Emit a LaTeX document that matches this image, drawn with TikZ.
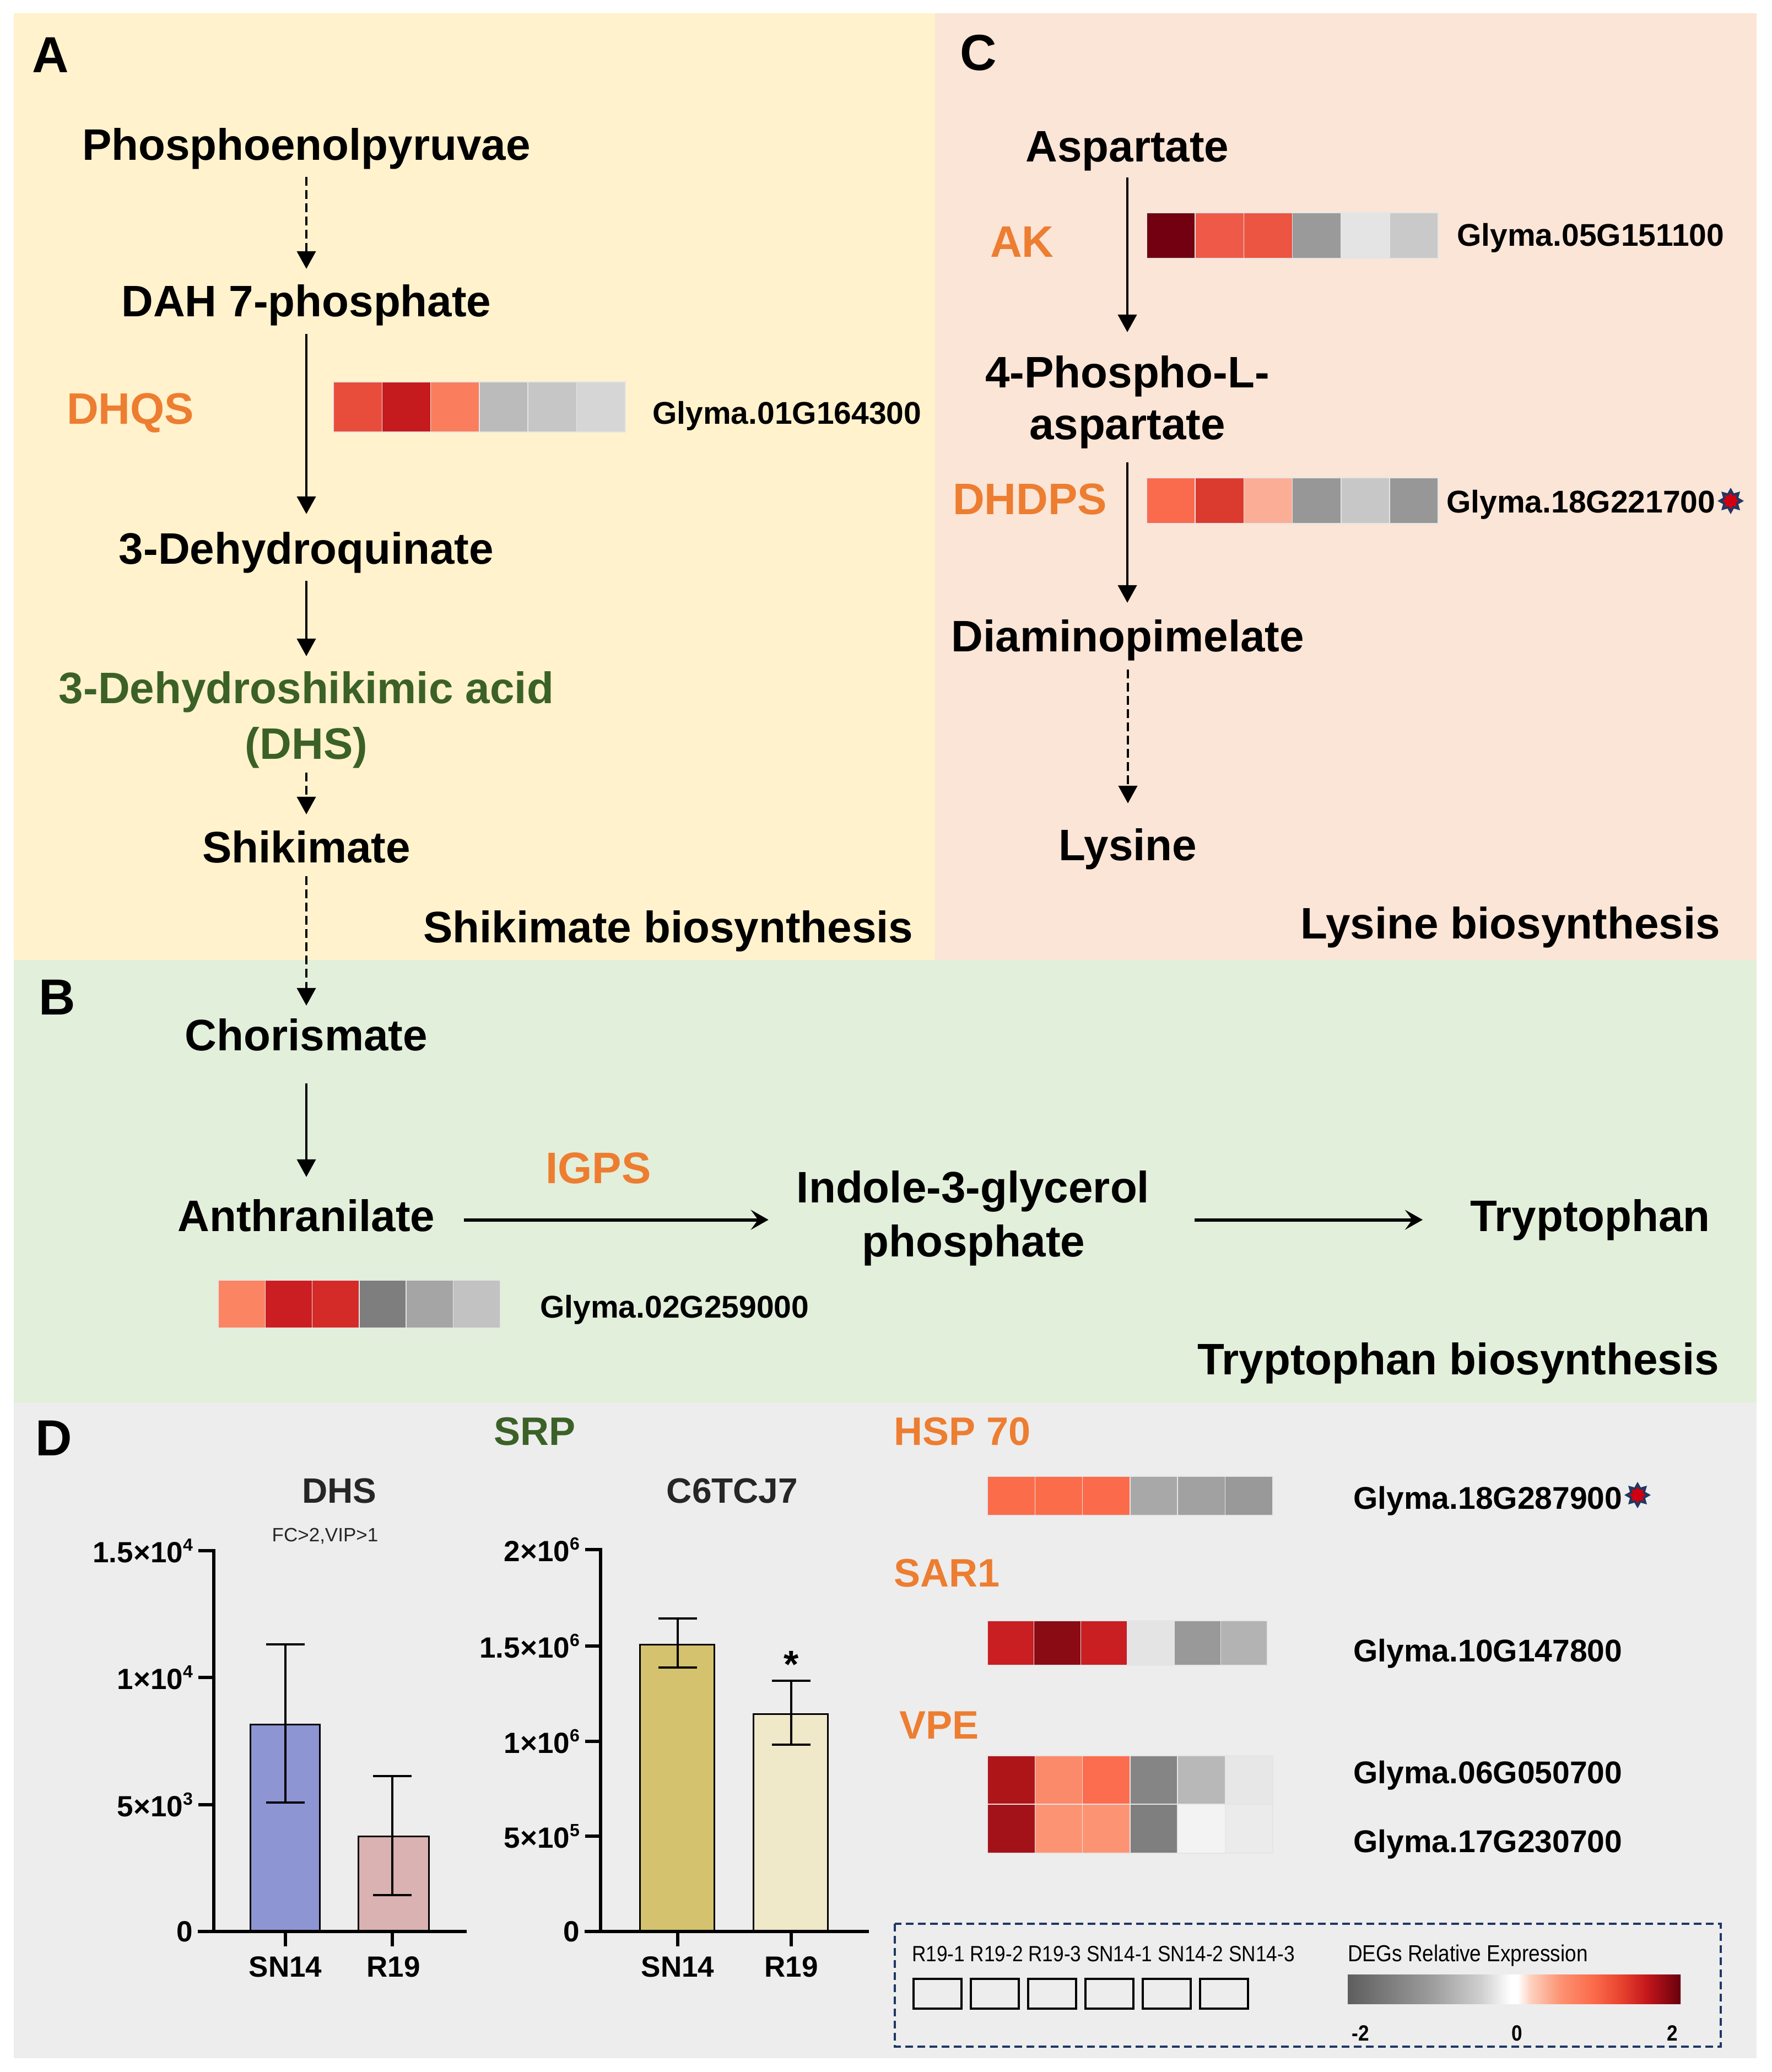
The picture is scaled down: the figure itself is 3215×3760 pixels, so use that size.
\documentclass[tikz,border=0pt]{standalone}
\usepackage{fontspec}
\setmainfont{Liberation Sans}
\newfontfamily\narrowf[FakeStretch=0.88]{Liberation Sans}
\usetikzlibrary{arrows.meta,shapes.geometric}
\definecolor{bgA}{HTML}{FFF2CC}
\definecolor{bgC}{HTML}{FBE5D6}
\definecolor{bgB}{HTML}{E2EFDA}
\definecolor{bgD}{HTML}{EDEDED}
\definecolor{enzc}{HTML}{ED7D31}
\definecolor{grn}{HTML}{3B6127}
\definecolor{navyc}{HTML}{1F3864}
\definecolor{starred}{HTML}{D00010}
\definecolor{ttl}{HTML}{262626}
\definecolor{barA}{HTML}{8E95D3}
\definecolor{barB}{HTML}{DAB2B2}
\definecolor{barC}{HTML}{D4C26E}
\definecolor{barD}{HTML}{EFE8C9}
\definecolor{cg0}{HTML}{5E5E5E}
\definecolor{cg1}{HTML}{9C9C9C}
\definecolor{cg2}{HTML}{CFCFCF}
\definecolor{cr0}{HTML}{FDD0BE}
\definecolor{cr1}{HTML}{FC9272}
\definecolor{cr2}{HTML}{FB6A4A}
\definecolor{cr3}{HTML}{E8432F}
\definecolor{cr4}{HTML}{C3161B}
\definecolor{cr5}{HTML}{67000D}
\pgfdeclarehorizontalshading{degs}{100bp}{color(0bp)=(cg0); color(25bp)=(cg0); color(37.5bp)=(cg1); color(45bp)=(cg2); color(49.5bp)=(white); color(50.5bp)=(white); color(52.5bp)=(cr0); color(57bp)=(cr1); color(62bp)=(cr2); color(66bp)=(cr3); color(70bp)=(cr4); color(75bp)=(cr5); color(100bp)=(cr5)}
\newcommand\metf{\bfseries\fontsize{80}{98}\selectfont}
\newcommand\genef{\bfseries\fontsize{57}{68}\selectfont}
\newcommand\subhf{\bfseries\fontsize{72}{86}\selectfont}
\newcommand\letf{\bfseries\fontsize{92}{110}\selectfont}
\newcommand\tickf{\bfseries\fontsize{53}{62}\selectfont}
\newcommand\supf{\bfseries\fontsize{32}{38}\selectfont}
\newcommand\sci[2]{#1×10\raisebox{21pt}{\supf #2}}
\newcommand\hmap[5]{%
  \foreach \c [count=\i from 0] in {#5} {
    \definecolor{hmtmp}{HTML}{\c}
    \fill[hmtmp, draw=black!10, line width=1.5pt] ({#1+\i*#3},#2) rectangle ++(#3,#4);
  }}
\begin{document}
\begin{tikzpicture}[x=1pt,y=-1pt,
  met/.style={font=\metf, inner sep=0pt, text height=58pt, text depth=17pt, anchor=base},
  enz/.style={font=\metf, text=enzc, inner sep=0pt, anchor=base west},
  subh/.style={font=\subhf, text=enzc, inner sep=0pt, anchor=base west},
  gene/.style={font=\genef, inner sep=0pt, anchor=base west},
  plet/.style={font=\letf, inner sep=0pt, anchor=base west},
  ptitle/.style={font=\metf, inner sep=0pt, anchor=base west},
  arr/.style={line width=4.5pt, -{Triangle[length=32pt,width=34pt]}},
  darr/.style={arr, dash pattern=on 16pt off 8pt},
  harr/.style={line width=6pt, -{Stealth[length=32pt,width=36pt,inset=13pt]}},
  tickl/.style={font=\tickf, inner sep=0pt, anchor=east},
  xl/.style={font=\tickf, inner sep=0pt, anchor=base},
  axis/.style={line width=6pt},
  errb/.style={line width=4pt},
  barst/.style={line width=3pt, draw=black},
  starout/.style={star, star points=8, star point ratio=1.6, fill=navyc, minimum size=48pt, inner sep=0pt},
  starin/.style={star, star points=8, star point ratio=1.5, fill=starred, minimum size=30pt, inner sep=0pt},
  legl/.style={font=\narrowf\fontsize{40}{48}\selectfont, inner sep=0pt, anchor=base},
  legb/.style={draw=black, line width=4pt}
]
\useasboundingbox (0,0) rectangle (3215,3760);
\fill[white] (0,0) rectangle (3215,3760);
% panels
\fill[bgA] (25,24) rectangle (1697,1742);
\fill[bgC] (1697,24) rectangle (3188,1742);
\fill[bgB] (25,1742) rectangle (3188,2545);
\fill[bgD] (25,2545) rectangle (3188,3735);
% panel letters
\node[plet] (LA) at (58,132) {A};
\node[plet] (LC) at (1742,128) {C};
\node[plet] (LB) at (70,1841) {B};
\node[plet] (LD) at (64,2641) {D};

% ---------- Panel A ----------
\node[met] (pep) at (556,290) {Phosphoenolpyruvae};
\node[met] (dah) at (556,574) {DAH 7-phosphate};
\node[met] (dhq) at (556,1023) {3-Dehydroquinate};
\node[met, text=grn] (dhs1) at (556,1276) {3-Dehydroshikimic acid};
\node[met, text=grn] (dhs2) at (556,1377) {(DHS)};
\node[met] (shik) at (556,1565) {Shikimate};
\node[enz] (dhqs) at (121,769) {DHQS};
\hmap{605}{693}{88.3}{91}{E84D3C,C51B1E,FA7E5E,BBBBBB,C6C6C6,D6D6D6}
\node[gene] (g1) at (1184,769) {Glyma.01G164300};
\node[ptitle] (tA) at (768,1710) {Shikimate biosynthesis};
\draw[darr, shorten <=14pt, shorten >=28pt] (pep.south) -- (pep.south |- dah.north);
\draw[arr, shorten <=15pt, shorten >=32pt] (dah.south) -- (dah.south |- dhq.north);
\draw[arr, shorten <=14pt, shorten >=27pt] (dhq.south) -- (dhq.south |- dhs1.north);
\draw[darr, shorten <=8pt, shorten >=29pt] (dhs2.south) -- (dhs2.south |- shik.north);

% ---------- Panel C ----------
\node[met] (asp) at (2046,293) {Aspartate};
\node[met] (pho1) at (2046,703) {4-Phospho-L-};
\node[met] (pho2) at (2046,797) {aspartate};
\node[met] (diam) at (2047,1182) {Diaminopimelate};
\node[met] (lys) at (2047,1561) {Lysine};
\node[enz] (ak) at (1797,466) {AK};
\node[enz] (dhdps) at (1729,933) {DHDPS};
\hmap{2081}{386}{88.2}{83}{720010,EE5A47,EC5541,9A9A9A,E4E4E4,C9C9C9}
\hmap{2081}{867}{88.2}{83}{FA6A4D,DB3A2F,FBAD96,979797,C7C7C7,979797}
\node[gene] (g2) at (2644,446) {Glyma.05G151100};
\node[gene] (g3) at (2625,930) {Glyma.18G221700};
\node[starout] (st1) at (3141,909) {};
\node[starin] (st1i) at (st1.center) {};
\node[ptitle] (tC) at (2360,1703) {Lysine biosynthesis};
\draw[arr, shorten <=12pt, shorten >=42pt] (asp.south) -- (asp.south |- pho1.north);
\draw[arr, shorten <=25pt, shorten >=30pt] (pho2.south) -- (pho2.south |- diam.north);
\draw[darr, shorten <=16pt, shorten >=45pt] (diam.south) -- (diam.south |- lys.north);

% ---------- Panel B ----------
\node[met] (chor) at (556,1906) {Chorismate};
\node[met] (anth) at (556,2234) {Anthranilate};
\node[met] (ind1) at (1766,2182) {Indole-3-glycerol};
\node[met] (ind2) at (1767,2280) {phosphate};
\node[met] (trp) at (2886,2234) {Tryptophan};
\node[enz] (igps) at (990,2147) {IGPS};
\hmap{396}{2323}{85.3}{87}{FB8463,CB1E22,D42B28,7E7E7E,A5A5A5,C2C2C2}
\node[gene] (g4) at (980,2391) {Glyma.02G259000};
\node[ptitle] (tB) at (2173,2494) {Tryptophan biosynthesis};
\draw[darr, shorten <=8pt, shorten >=23pt] (shik.south) -- (shik.south |- chor.north);
\draw[arr, line width=4pt, shorten <=43pt, shorten >=40pt] (chor.south) -- (chor.south |- anth.north);
\draw[harr, shorten <=52pt, shorten >=51pt] (anth.east) -- (anth.east -| ind1.west);
\draw[harr, shorten <=82pt, shorten >=86pt] (ind1.east |- anth.east) -- (trp.west |- anth.east);

% ---------- Panel D ----------
\node[subh, text=grn] (srp) at (896,2622) {SRP};
\node[font=\bfseries\fontsize{64}{76}\selectfont, text=ttl, inner sep=0pt, anchor=base] (tdhs) at (616,2727) {DHS};
\node[font=\fontsize{35}{42}\selectfont, text=ttl, inner sep=0pt, anchor=base] (fc) at (590,2797) {FC>2,VIP>1};
\node[font=\bfseries\fontsize{64}{76}\selectfont, text=ttl, inner sep=0pt, anchor=base] (tc6) at (1329,2727) {C6TCJ7};
% chart 1
\draw[barst, fill=barA] (454,3505) rectangle (580,3129);
\draw[barst, fill=barB] (650,3505) rectangle (778,3332);
\draw[errb] (518,2984) -- (518,3271);
\draw[errb] (483,2984) -- (553,2984);
\draw[errb] (483,3271) -- (553,3271);
\draw[errb] (712,3223) -- (712,3439);
\draw[errb] (677,3223) -- (747,3223);
\draw[errb] (677,3439) -- (747,3439);
\draw[axis] (388,2811) -- (388,3505);
\draw[axis] (359,3505) -- (847,3505);
\foreach \yy in {2814,3044,3275} \draw[axis] (360,\yy) -- (388,\yy);
\foreach \xx in {518,712} \draw[axis] (\xx,3505) -- (\xx,3532);
\node[tickl] (a1) at (350,2814) {\sci{1.5}{4}};
\node[tickl] (a2) at (350,3044) {\sci{1}{4}};
\node[tickl] (a3) at (350,3275) {\sci{5}{3}};
\node[tickl] (a4) at (350,3505) {0};
\node[xl] (x1) at (518,3587) {SN14};
\node[xl] (x2) at (714,3587) {R19};
% chart 2
\draw[barst, fill=barC] (1161,3505) rectangle (1296,2984);
\draw[barst, fill=barD] (1367,3505) rectangle (1502,3110);
\draw[errb] (1230,2937) -- (1230,3026);
\draw[errb] (1195,2937) -- (1265,2937);
\draw[errb] (1195,3026) -- (1265,3026);
\draw[errb] (1436,3050) -- (1436,3166);
\draw[errb] (1401,3050) -- (1471,3050);
\draw[errb] (1401,3166) -- (1471,3166);
\draw[axis] (1090,2809) -- (1090,3505);
\draw[axis] (1061,3505) -- (1577,3505);
\foreach \yy in {2812,2987,3160,3332} \draw[axis] (1062,\yy) -- (1090,\yy);
\foreach \xx in {1230,1436} \draw[axis] (\xx,3505) -- (\xx,3532);
\node[tickl] (b1) at (1052,2812) {\sci{2}{6}};
\node[tickl] (b2) at (1052,2987) {\sci{1.5}{6}};
\node[tickl] (b3) at (1052,3160) {\sci{1}{6}};
\node[tickl] (b4) at (1052,3332) {\sci{5}{5}};
\node[tickl] (b5) at (1052,3505) {0};
\node[xl] (x3) at (1230,3587) {SN14};
\node[xl] (x4) at (1436,3587) {R19};
\node[font=\bfseries\fontsize{70}{80}\selectfont, inner sep=0pt, anchor=base] (sig) at (1436,3044) {*};
% heatmaps
\node[subh] (hsp) at (1622,2622) {HSP 70};
\hmap{1792}{2679}{86.3}{71}{FB6C4B,FB6C4B,FB6A4A,A8A8A8,A1A1A1,999999}
\node[gene] (g5) at (2456,2738) {Glyma.18G287900};
\node[starout] (st2) at (2972,2713) {};
\node[starin] (st2i) at (st2.center) {};
\node[subh] (sar) at (1622,2879) {SAR1};
\hmap{1792}{2941}{84.7}{81}{C91E22,8A0B14,C91E22,E4E4E4,999999,B3B3B3}
\node[gene] (g6) at (2456,3015) {Glyma.10G147800};
\node[subh] (vpe) at (1632,3155) {VPE};
\hmap{1792}{3186}{86.3}{88}{AE1519,FB8A6A,FB6D4E,858585,B8B8B8,E7E7E7}
\hmap{1792}{3274}{86.3}{89}{A41219,FC9474,FC9474,7F7F7F,F3F3F3,EBEBEB}
\node[gene] (g7) at (2456,3236) {Glyma.06G050700};
\node[gene] (g8) at (2456,3361) {Glyma.17G230700};
% legend
\draw[navyc, line width=4pt, dash pattern=on 14pt off 8pt] (1624,3491) rectangle (3123,3714);
\node[legl, anchor=base west] (samples) at (1655,3559) {R19-1 R19-2 R19-3 SN14-1 SN14-2 SN14-3};
\foreach \i in {0,...,5} {
  \draw[legb] ({1658+104*\i},3591) rectangle ++(87,54);
}
\node[legl, font=\narrowf\fontsize{42}{50}\selectfont, anchor=base west] (degs) at (2446,3559) {DEGs Relative Expression};
\shade[shading=degs] (2446,3583) rectangle (3050,3636);
\node[legl, font=\narrowf\bfseries\fontsize{40}{48}\selectfont] (cm2) at (2469,3703) {-2};
\node[legl, font=\narrowf\bfseries\fontsize{40}{48}\selectfont] (c0) at (2753,3703) {0};
\node[legl, font=\narrowf\bfseries\fontsize{40}{48}\selectfont] (c2) at (3035,3703) {2};
\end{tikzpicture}
\end{document}
